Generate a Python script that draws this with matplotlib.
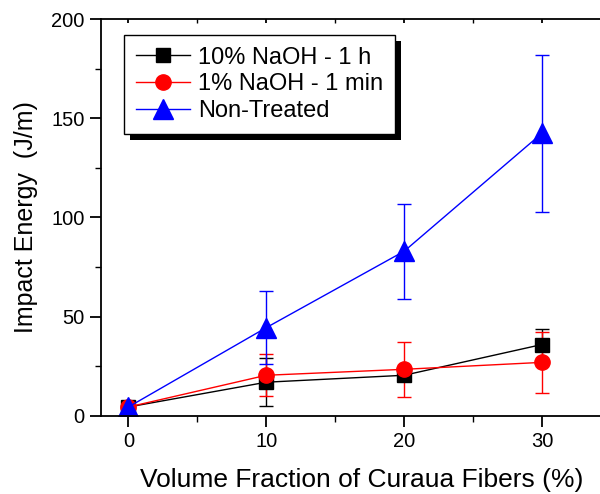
import numpy as np
from matplotlib import pyplot as plt
from matplotlib.patches import Rectangle
from matplotlib.ticker import MultipleLocator

plt.rcParams['font.family'] = ['Liberation Sans', 'DejaVu Sans']

## data
fiber = [0, 10, 20, 30]
naoh10 = [4.5, 17, 20.5, 36]
naoh10_err = [1, 12, 3, 8]
naoh1 = [4.5, 20.5, 23.5, 27]
naoh1_err = [1, 10.5, 14, 15.5]
untreated = [4.5, 44.5, 83, 142.5]
untreated_err = [1, 18.5, 24, 39.5]

fig = plt.figure(figsize=(6, 4.94), dpi=100)
ax = fig.add_axes([0.168, 0.158, 0.832, 0.8035])

e1 = ax.errorbar(fiber, naoh10, yerr=naoh10_err, color='black', marker='s', ms=10,
                 lw=1, elinewidth=1, capsize=5, capthick=1)
e2 = ax.errorbar(fiber, naoh1, yerr=naoh1_err, color='red', marker='o', ms=11,
                 lw=1, elinewidth=1, capsize=5, capthick=1)
e3 = ax.errorbar(fiber, untreated, yerr=untreated_err, color='blue', marker='^', ms=14,
                 lw=1, elinewidth=1, capsize=5, capthick=1)

ax.set_xlim(-2, 34.2)
ax.set_ylim(0, 200)
ax.xaxis.set_major_locator(MultipleLocator(10))
ax.xaxis.set_minor_locator(MultipleLocator(5))
ax.yaxis.set_major_locator(MultipleLocator(50))
ax.yaxis.set_minor_locator(MultipleLocator(25))
ax.tick_params(which='major', direction='out', length=8, width=1.3, labelsize=14.5)
ax.tick_params(which='minor', direction='out', length=4, width=1)
ax.tick_params(axis='x', which='both', top=True)
ax.spines['right'].set_visible(False)
for s in ['left', 'bottom', 'top']:
    ax.spines[s].set_linewidth(1.3)
# top ticks point inward and are short
for t in ax.xaxis.get_major_ticks() + ax.xaxis.get_minor_ticks():
    t.tick2line.set_marker(3)
    t.tick2line.set_markersize(3)

ax.set_xlabel('Volume Fraction of Curaua Fibers (%)', fontsize=19)
ax.xaxis.set_label_coords(0.522, -0.13)
ax.set_ylabel('Impact Energy  (J/m)', fontsize=18, labelpad=10)

leg = ax.legend([e1[0], e2[0], e3[0]],
                ['10% NaOH - 1 h', '1% NaOH - 1 min', 'Non-Treated'],
                loc='upper left', bbox_to_anchor=(0.046, 0.96), borderaxespad=0,
                fontsize=17, handlelength=2.3, fancybox=False, framealpha=1,
                edgecolor='black', borderpad=0.5, labelspacing=0.2, handletextpad=0.35)
leg.get_frame().set_linewidth(1)
leg.set_zorder(5)

## black drop shadow behind the legend
fig.canvas.draw()
bb = leg.get_window_extent()
shadow = Rectangle((bb.x0 + 6, bb.y0 - 6), bb.width, bb.height, transform=None,
                   facecolor='black', edgecolor='none', zorder=4)
ax.add_artist(shadow)

plt.savefig('out.png', dpi=100)
